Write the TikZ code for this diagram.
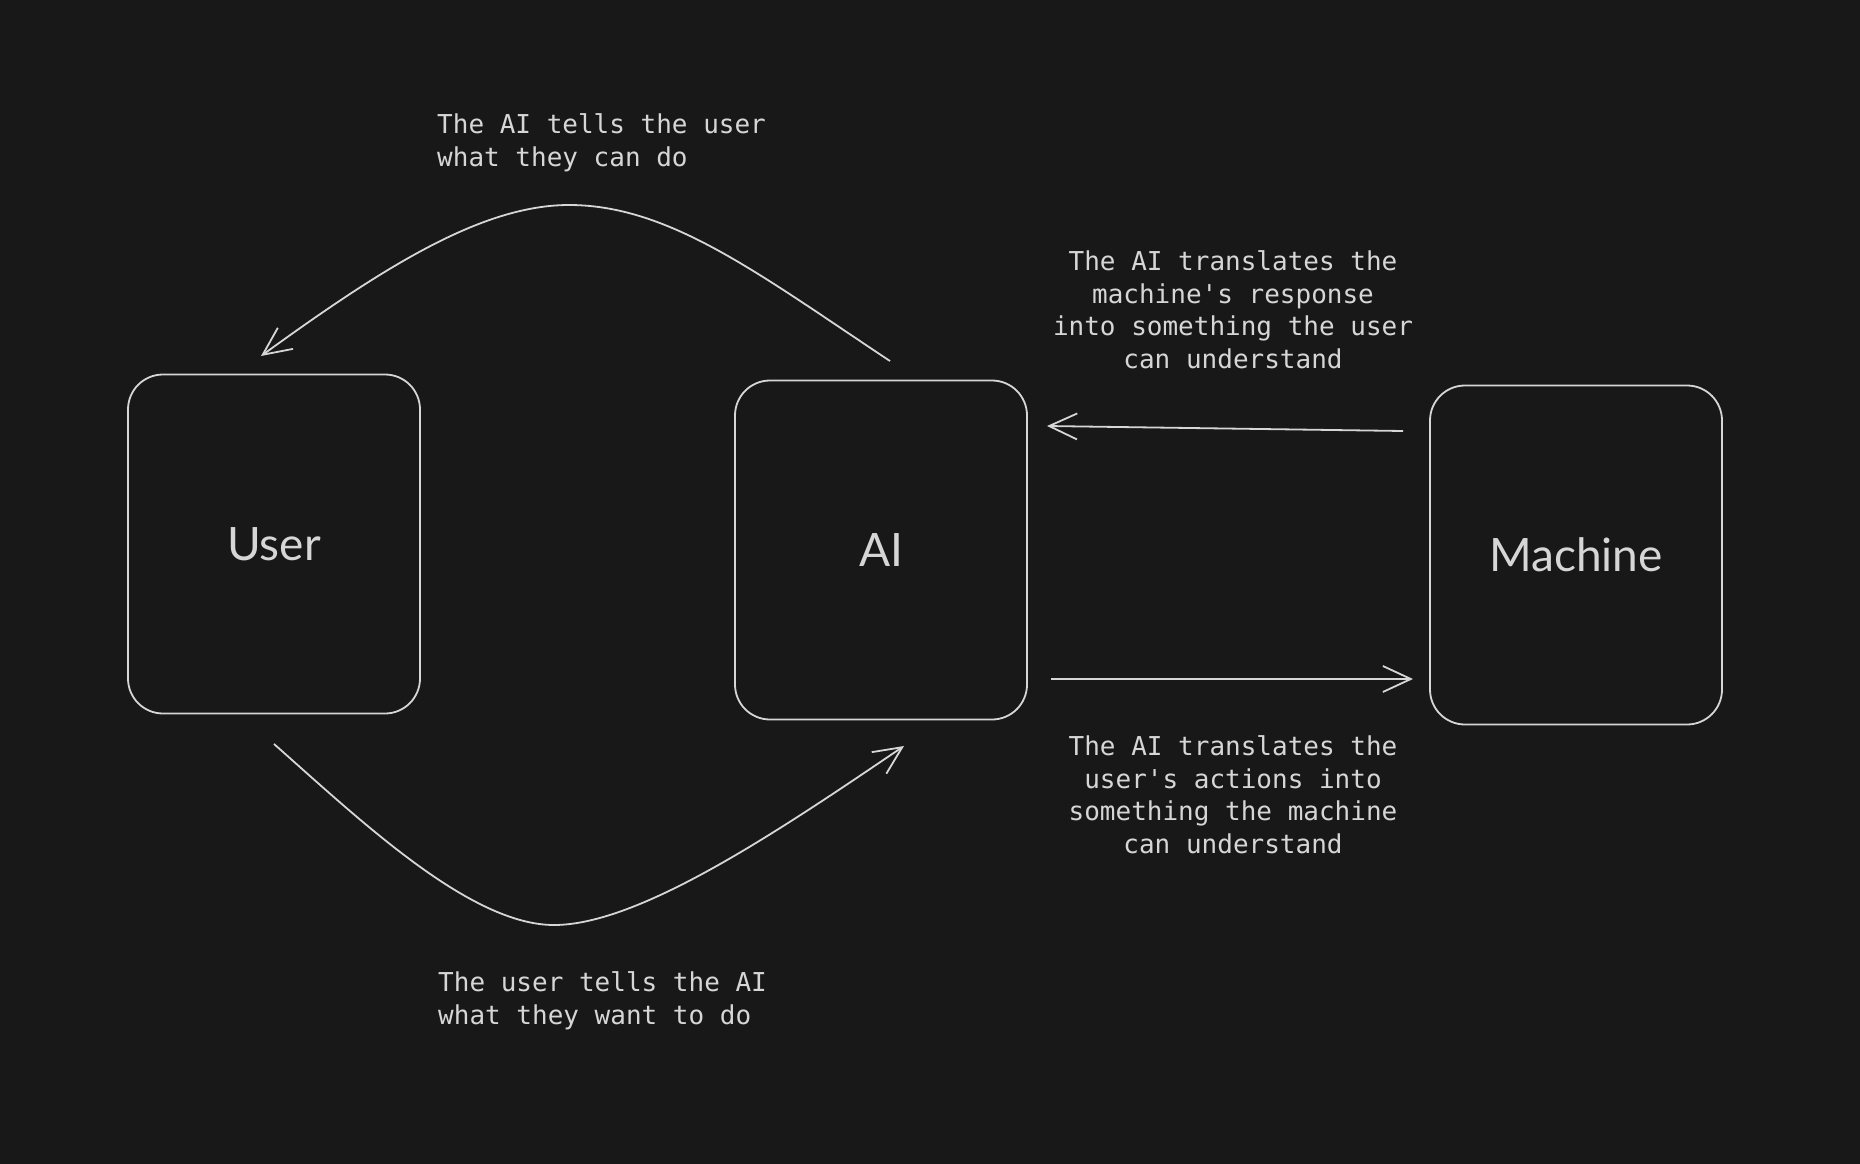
\documentclass[tikz,border=0pt]{standalone}
\usepackage{fontspec}
\setmainfont{Lato}
\newfontfamily\monofont{DejaVu Sans Mono}
\usetikzlibrary{arrows.meta}
\definecolor{bg}{HTML}{181818}
\definecolor{ink}{HTML}{D6D6D6}
\tikzset{
  box/.style={draw=ink, line width=1.8pt, rounded corners=35pt, minimum width=292pt, minimum height=339pt, inner sep=0pt, text=ink, font=\fontsize{46}{50}\selectfont},
  conn/.style={draw=ink, line width=1.8pt, -{Straight Barb[length=28pt,width=26pt,line width=1.8pt]}},
  note/.style={text=ink, font=\monofont\fontsize{26}{32.5}\selectfont, inner sep=0pt},
}
\begin{document}
\begin{tikzpicture}[x=1pt,y=-1pt]
\fill[bg] (0,0) rectangle (1860,1164);
\useasboundingbox (0,0) rectangle (1860,1164);
\node[box] (user) at (274,544) {User};
\node[box] (ai) at (881,550) {AI};
\node[box] (machine) at (1576,555) {Machine};
% endpoints
\coordinate (t0) at (890,361);
\coordinate (tp) at (569,205);
\coordinate (t1) at (261,356);
\coordinate (b0) at (274,744);
\coordinate (bp) at (554,925);
\coordinate (b1) at (904,746);
\coordinate (r0) at (1403,431);
\coordinate (r1) at (1047,426);
\coordinate (s0) at (1051,679);
\coordinate (s1) at (1413,679);
\draw[conn] (t0) .. controls (760,275) and (670,205) .. (tp) .. controls (480,205) and (380,270) .. (t1);
\draw[conn] (b0) .. controls (360,820) and (470,925) .. (bp) .. controls (640,925) and (780,830) .. (b1);
\draw[conn] (r0) -- (r1);
\draw[conn] (s0) -- (s1);
% notes
\node[note, anchor=north west, align=left] (n1) at (437,113.5) {The AI tells the user\\what they can do};
\node[note, anchor=north west, align=left] (n2) at (438,971.5) {The user tells the AI\\what they want to do};
\node[note, anchor=north, align=center] (n3) at (1233,250.5) {The AI translates the\\machine's response\\into something the user\\can understand};
\node[note, anchor=north, align=center] (n4) at (1233,735.5) {The AI translates the\\user's actions into\\something the machine\\can understand};
\end{tikzpicture}
\end{document}
